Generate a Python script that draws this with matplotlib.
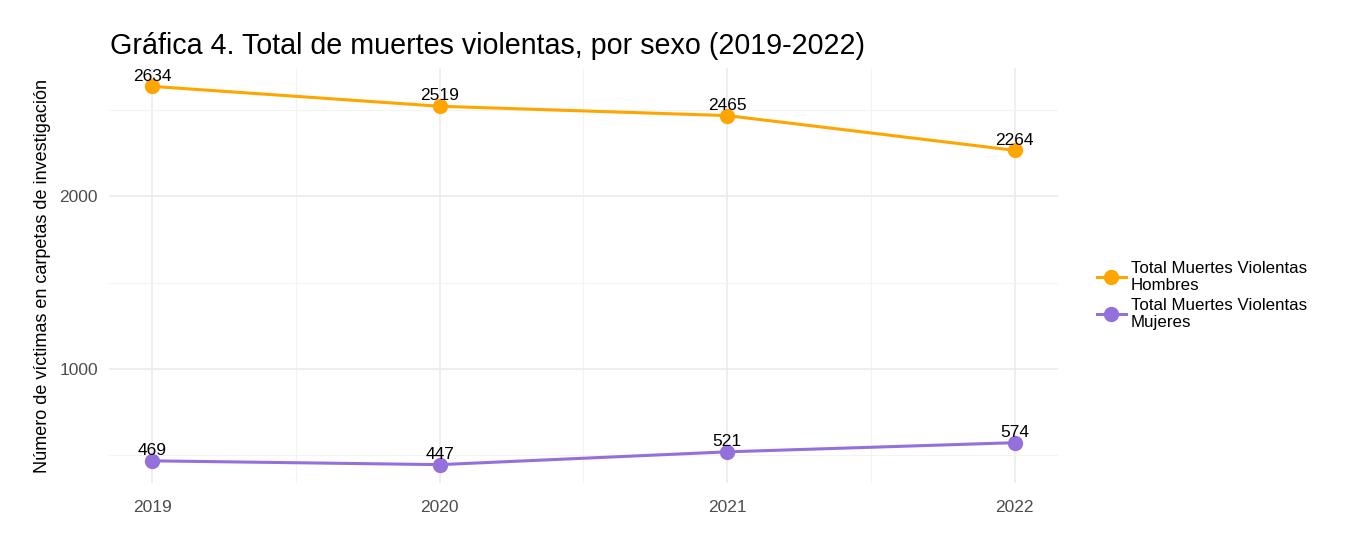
import matplotlib.pyplot as plt
from matplotlib.ticker import MultipleLocator

plt.rcParams['font.family'] = ['Liberation Sans', 'DejaVu Sans']

# Datos
anios = [2019, 2020, 2021, 2022]
hombres = [2634, 2519, 2465, 2264]
mujeres = [469, 447, 521, 574]

fig = plt.figure(figsize=(13.54, 5.52), dpi=100)
ax = fig.add_axes([0.0804, 0.1241, 0.7010, 0.7536])

ax.plot(anios, hombres, color="#FFA500", lw=2.2, marker="o", ms=10,
        label="Total Muertes Violentas\nHombres")
ax.plot(anios, mujeres, color="#9370DB", lw=2.2, marker="o", ms=10,
        label="Total Muertes Violentas\nMujeres")

# Etiquetas de valores
for serie in (hombres, mujeres):
    for x, y in zip(anios, serie):
        ax.annotate(str(y), (x, y), xytext=(0, 2), textcoords="offset points",
                    ha="center", va="bottom", fontsize=12.5, color="black")

ax.set_xlim(2018.85, 2022.15)
ax.set_ylim(338, 2743)
ax.set_xticks(anios)
ax.xaxis.set_minor_locator(MultipleLocator(0.5))
ax.yaxis.set_major_locator(MultipleLocator(1000))
ax.yaxis.set_minor_locator(MultipleLocator(500))

ax.grid(which="major", color="#EBEBEB", lw=1.2)
ax.grid(which="minor", color="#F3F3F3", lw=0.8)
ax.set_axisbelow(True)
for s in ax.spines.values():
    s.set_visible(False)
ax.tick_params(which="both", length=0, labelsize=12.5, labelcolor="#4D4D4D")
ax.tick_params(axis="x", pad=12)
ax.tick_params(axis="y", pad=8)

ax.set_ylabel("Número de víctimas en carpetas de investigación", fontsize=13, labelpad=6)
ax.set_title("Gráfica 4. Total de muertes violentas, por sexo (2019-2022)",
             fontsize=20.6, loc="left", x=0.001, pad=10)

ax.legend(loc="center left", bbox_to_anchor=(1.025, 0.452), frameon=False,
          fontsize=12.2, handlelength=1.7, labelspacing=0.3, handletextpad=0.3)

plt.savefig("out.png", dpi=100)
